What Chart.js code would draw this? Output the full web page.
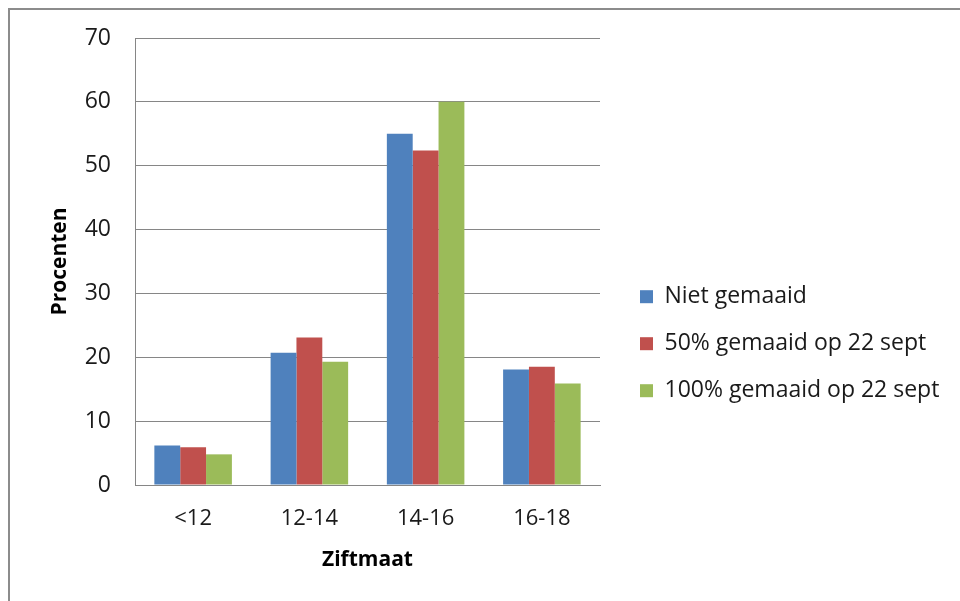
<!DOCTYPE html>
<html>
<head>
<meta charset="utf-8">
<script src="https://cdn.jsdelivr.net/npm/chart.js@4"></script>
<style>
  html, body { margin: 0; padding: 0; background: #fff; overflow: hidden; }
  #wrap { position: relative; width: 960px; height: 601px; }
  #frame { position: absolute; left: 8px; top: 8px; width: 1000px; height: 700px;
           border-left: 2px solid #8c8c8c; border-top: 2px solid #8c8c8c; }
  canvas { position: absolute; left: 0; top: 0; }
</style>
</head>
<body>
<div id="wrap">
  <div id="frame"></div>
  <canvas id="myChart" width="960" height="601"></canvas>
</div>
<script>
var categories = ['<12', '12-14', '14-16', '16-18'];
var nietGemaaid = [6.2, 20.7, 55.0, 18.1];
var half = [5.9, 23.1, 52.4, 18.5];
var full = [4.8, 19.3, 60.0, 15.9];

var font = "'Open Sans', sans-serif";
var gridColor = '#868686';

// legend sits a bit further right of the plot than chart.js puts it
var legendShift = {
    id: 'legendShift',
    afterLayout: function (chart) {
        chart.legend.left += 16;
        chart.legend.right += 16;
    }
};

var ctx = document.getElementById('myChart').getContext('2d');

var chart = new Chart(ctx, {
    type: 'bar',
    data: {
        labels: categories,
        datasets: [
            { label: 'Niet gemaaid', data: nietGemaaid, backgroundColor: '#4F81BD' },
            { label: '50% gemaaid op 22 sept', data: half, backgroundColor: '#C0504D' },
            { label: '100% gemaaid op 22 sept', data: full, backgroundColor: '#9BBB59' }
        ]
    },
    options: {
        responsive: false,
        animation: false,
        layout: { padding: { left: 30, top: 38, right: 0, bottom: 0 } },
        datasets: { bar: { categoryPercentage: 0.667, barPercentage: 1.0 } },
        plugins: {
            tooltip: { enabled: false },
            legend: {
                position: 'right',
                align: 'center',
                title: { display: true, text: '', padding: { top: 34, bottom: 0 } },
                labels: {
                    boxWidth: 13,
                    boxHeight: 13,
                    padding: 24,
                    color: '#1a1a1a',
                    font: { family: font, size: 23 }
                }
            }
        },
        scales: {
            x: {
                grid: { display: false, drawTicks: false },
                border: { color: gridColor, width: 1 },
                ticks: { color: '#1a1a1a', padding: 21, font: { family: font, size: 22 } },
                title: {
                    display: true, text: 'Ziftmaat', color: '#000',
                    font: { family: font, size: 21, weight: 'bold' },
                    padding: { top: 0, bottom: 28 }
                },
                afterFit: function (s) { s.height = 116; }
            },
            y: {
                min: 0, max: 70,
                ticks: { stepSize: 10, color: '#1a1a1a', padding: 24, font: { family: font, size: 23 } },
                grid: { color: gridColor, drawTicks: false },
                border: { color: gridColor, width: 1 },
                title: {
                    display: true, text: 'Procenten', color: '#000',
                    font: { family: font, size: 21, weight: 'bold' },
                    padding: { top: 17, bottom: 0 }
                },
                afterFit: function (s) { s.width = 105; }
            }
        }
    },
    plugins: [legendShift]
});

// the default layout caps the legend at a quarter of the width; give it what it needs
var origFit = chart.legend.fit;
chart.legend.fit = function () {
    origFit.call(this);
    this.width = 360;
};
chart.update();
</script>
</body>
</html>
